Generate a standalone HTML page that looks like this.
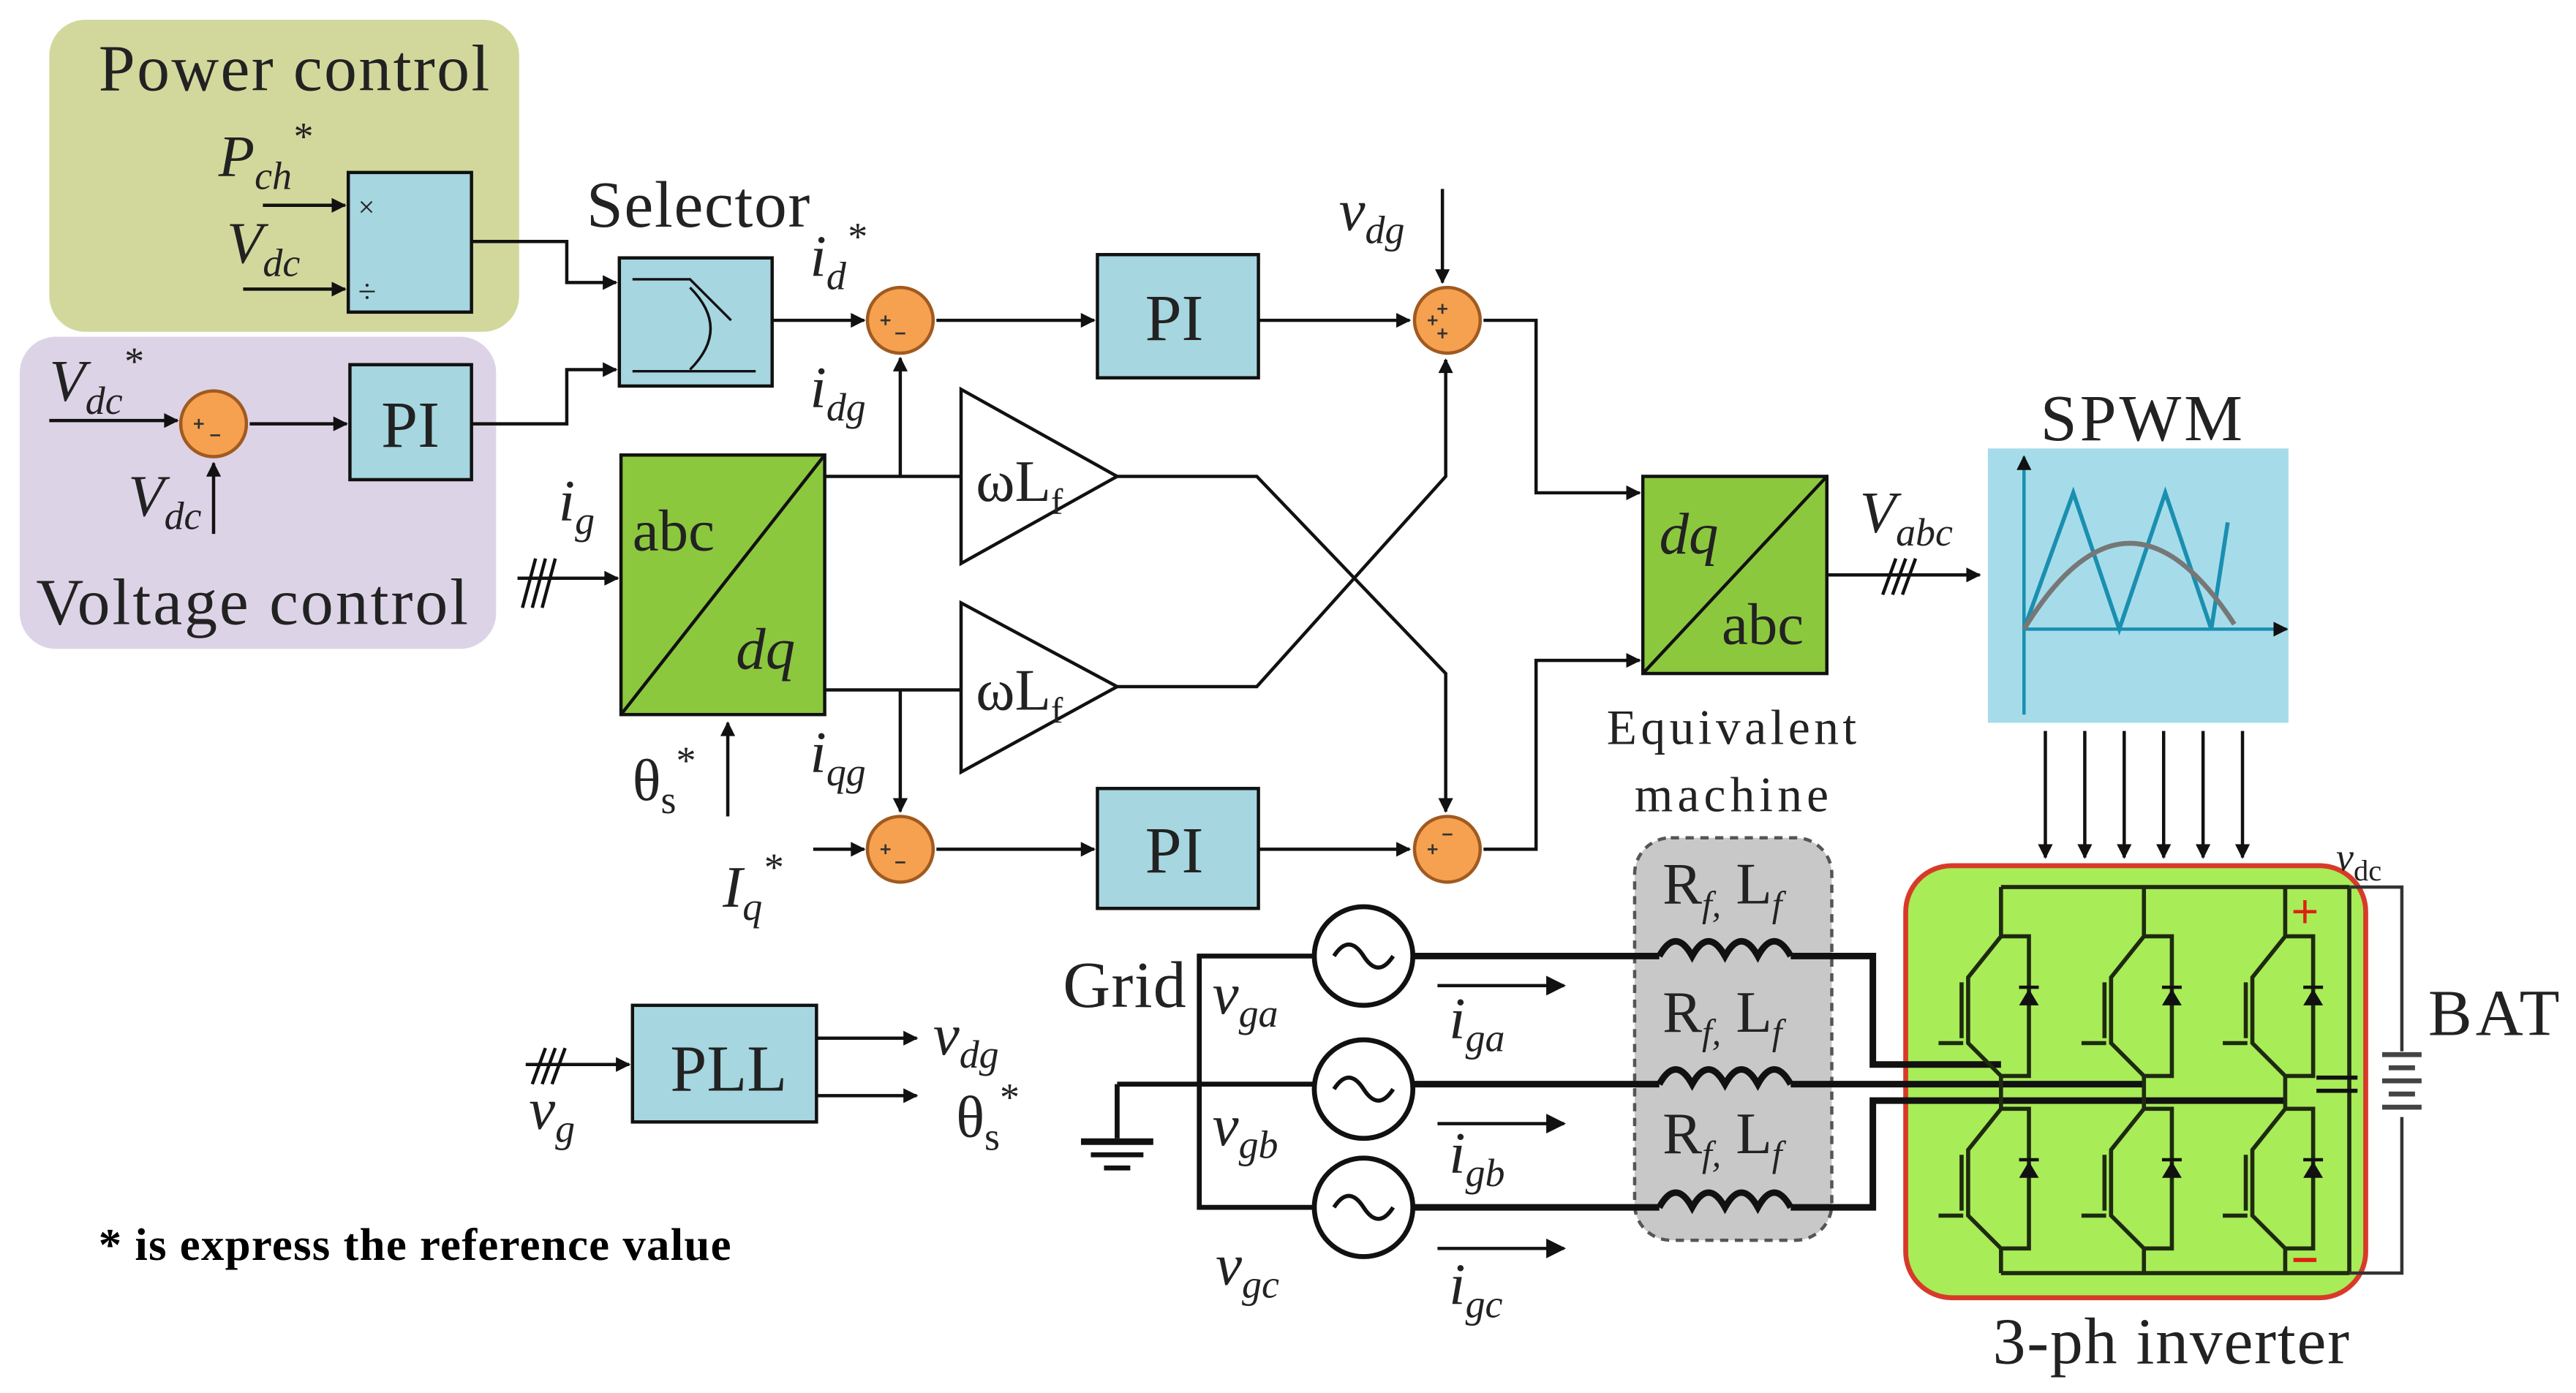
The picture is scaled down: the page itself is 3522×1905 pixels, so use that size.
<!DOCTYPE html>
<html><head><meta charset="utf-8"><style>
html,body{margin:0;padding:0;background:#fff;}
svg{display:block;}
text{font-family:"Liberation Serif",serif;fill:#222;}
.it{font-style:italic;}
</style></head><body>
<svg width="3522" height="1905" viewBox="0 0 1568 848" preserveAspectRatio="none" xmlns="http://www.w3.org/2000/svg">
<defs>
<marker id="a" viewBox="0 0 10 10" refX="9" refY="5" markerWidth="10" markerHeight="9" orient="auto" markerUnits="userSpaceOnUse"><path d="M0,0 L10,5 L0,10z" fill="#111"/></marker>
<marker id="b" viewBox="0 0 10 10" refX="9" refY="5" markerWidth="16" markerHeight="12" orient="auto" markerUnits="userSpaceOnUse"><path d="M0,0 L10,5 L0,10z" fill="#111"/></marker>
</defs>
<g stroke="#111" stroke-width="2" fill="none">
<rect x="30" y="12" width="286" height="190" rx="22" fill="#d2d89c" stroke="none"/>
<rect x="12" y="205" width="290" height="190" rx="22" fill="#ddd3e6" stroke="none"/>
<rect x="212" y="105" width="75" height="85" fill="#a6d6e0"/>
<rect x="377" y="157" width="93" height="78" fill="#a6d6e0"/>
<rect x="213" y="222" width="74" height="70" fill="#a6d6e0"/>
<rect x="668" y="155" width="98" height="75" fill="#a6d6e0"/>
<rect x="668" y="480" width="98" height="73" fill="#a6d6e0"/>
<rect x="385" y="612" width="112" height="71" fill="#a6d6e0"/>
<rect x="378" y="277" width="124" height="158" fill="#8cc83e"/>
<line x1="378" y1="435" x2="502" y2="277"/>
<rect x="1000" y="290" width="112" height="120" fill="#8cc83e"/>
<line x1="1000" y1="410" x2="1112" y2="290"/>
<rect x="1210" y="273" width="183" height="167" fill="#a6dcea" stroke="none"/>
<rect x="995" y="510" width="120" height="245" rx="22" fill="#c8c8c8" stroke="#555" stroke-dasharray="5,4"/>
<rect x="1160" y="527" width="280" height="263" rx="28" fill="#a8ec58" stroke="#d83a2a" stroke-width="3"/>
<path d="M385,170 H420 L445,195 M385,226 H460 M420,175 Q445,200 420,225" stroke-width="1.5"/>
<line x1="160" y1="125" x2="210" y2="125" marker-end="url(#a)"/>
<line x1="148" y1="176" x2="210" y2="176" marker-end="url(#a)"/>
<polyline points="287,147 345,147 345,172 375,172" marker-end="url(#a)"/>
<polyline points="287,258 345,258 345,225 375,225" marker-end="url(#a)"/>
<line x1="30" y1="256" x2="108" y2="256" marker-end="url(#a)"/>
<line x1="152" y1="258" x2="211" y2="258" marker-end="url(#a)"/>
<line x1="130" y1="325" x2="130" y2="282" marker-end="url(#a)"/>
<line x1="470" y1="195" x2="526" y2="195" marker-end="url(#a)"/>
<line x1="570" y1="195" x2="666" y2="195" marker-end="url(#a)"/>
<line x1="766" y1="195" x2="858" y2="195" marker-end="url(#a)"/>
<line x1="878" y1="115" x2="878" y2="172" marker-end="url(#a)"/>
<line x1="315" y1="352" x2="376" y2="352" marker-end="url(#a)"/>
<path d="M318,370 L326,340 M324,370 L332,340 M330,370 L338,340"/>
<line x1="443" y1="497" x2="443" y2="440" marker-end="url(#a)"/>
<line x1="502" y1="290" x2="585" y2="290"/>
<line x1="548" y1="290" x2="548" y2="218" marker-end="url(#a)"/>
<line x1="502" y1="420" x2="585" y2="420"/>
<line x1="548" y1="420" x2="548" y2="494" marker-end="url(#a)"/>
<polygon points="585,237 680,290 585,343" fill="#fff"/>
<polygon points="585,367 680,418 585,470" fill="#fff"/>
<polyline points="680,290 765,290 880,410 880,494" marker-end="url(#a)"/>
<polyline points="680,418 765,418 880,290 880,219" marker-end="url(#a)"/>
<line x1="495" y1="517" x2="526" y2="517" marker-end="url(#a)"/>
<line x1="570" y1="517" x2="666" y2="517" marker-end="url(#a)"/>
<line x1="766" y1="517" x2="858" y2="517" marker-end="url(#a)"/>
<polyline points="903,195 935,195 935,300 998,300" marker-end="url(#a)"/>
<polyline points="903,517 935,517 935,402 998,402" marker-end="url(#a)"/>
<line x1="1112" y1="350" x2="1205" y2="350" marker-end="url(#a)"/>
<path d="M1146,362 L1154,340 M1152,362 L1160,340 M1158,362 L1166,340"/>
<g fill="#f5a14f" stroke="#a05a20">
<circle cx="130" cy="258" r="20"/>
<circle cx="548" cy="195" r="20"/>
<circle cx="881" cy="195" r="20"/>
<circle cx="548" cy="517" r="20"/>
<circle cx="881" cy="517" r="20"/>
</g>
<g stroke="#333" stroke-width="1.2">
<path d="M118,258 h6 M121,255 v6 M128,265 h6"/>
<path d="M536,195 h6 M539,192 v6 M545,203 h6"/>
<path d="M869,195 h6 M872,192 v6 M878,185 v6 M875,188 h6 M878,200 v6 M875,203 h6"/>
<path d="M536,517 h6 M539,514 v6 M545,525 h6"/>
<path d="M869,517 h6 M872,514 v6 M878,508 h6"/>
</g>
<line x1="1232" y1="435" x2="1232" y2="278" stroke="#1a8fb0" marker-end="url(#a)"/>
<line x1="1232" y1="383" x2="1392" y2="383" stroke="#1a8fb0" marker-end="url(#a)"/>
<polyline points="1232,383 1262,300 1290,383 1318,300 1346,383 1356,318" stroke="#1a8fb0" stroke-width="2.5"/>
<path d="M1232,383 Q1295,280 1360,380" stroke="#777" stroke-width="3"/>
<g>
<line x1="1245" y1="445" x2="1245" y2="522" marker-end="url(#a)"/>
<line x1="1269" y1="445" x2="1269" y2="522" marker-end="url(#a)"/>
<line x1="1293" y1="445" x2="1293" y2="522" marker-end="url(#a)"/>
<line x1="1317" y1="445" x2="1317" y2="522" marker-end="url(#a)"/>
<line x1="1341" y1="445" x2="1341" y2="522" marker-end="url(#a)"/>
<line x1="1365" y1="445" x2="1365" y2="522" marker-end="url(#a)"/>
</g>
<line x1="320" y1="648" x2="383" y2="648" marker-end="url(#a)"/>
<path d="M324,660 L332,638 M330,660 L338,638 M336,660 L344,638"/>
<line x1="497" y1="632" x2="558" y2="632" marker-end="url(#a)"/>
<line x1="497" y1="667" x2="558" y2="667" marker-end="url(#a)"/>
<g stroke-width="3">
<polyline points="730,660 730,582 800,582"/>
<polyline points="730,660 730,735 800,735"/>
<line x1="680" y1="660" x2="800" y2="660"/>
<line x1="680" y1="660" x2="680" y2="693"/>
</g>
<line x1="658" y1="695" x2="702" y2="695" stroke-width="4"/>
<line x1="664" y1="703" x2="696" y2="703" stroke-width="3"/>
<line x1="672" y1="711" x2="688" y2="711" stroke-width="3"/>
<circle cx="830" cy="582" r="30" stroke-width="3" fill="#fff"/>
<circle cx="830" cy="663" r="30" stroke-width="3" fill="#fff"/>
<circle cx="830" cy="735" r="30" stroke-width="3" fill="#fff"/>
<path d="M812,582 q9,-14 18,0 t18,0 M812,663 q9,-14 18,0 t18,0 M812,735 q9,-14 18,0 t18,0" stroke-width="2.5"/>
<g stroke-width="4">
<line x1="860" y1="582" x2="1010" y2="582"/>
<line x1="860" y1="660" x2="1010" y2="660"/>
<line x1="860" y1="735" x2="1010" y2="735"/>
<path d="M1010,582 q10,-18 20,0 q10,-18 20,0 q10,-18 20,0 q10,-18 20,0 M1010,660 q10,-18 20,0 q10,-18 20,0 q10,-18 20,0 q10,-18 20,0 M1010,735 q10,-18 20,0 q10,-18 20,0 q10,-18 20,0 q10,-18 20,0"/>
<polyline points="1090,582 1140,582 1140,648 1218,648"/>
<polyline points="1090,660 1305,660"/>
<polyline points="1090,735 1140,735 1140,670 1391,670"/>
</g>
<line x1="875" y1="600" x2="952" y2="600" marker-end="url(#b)"/>
<line x1="875" y1="684" x2="952" y2="684" marker-end="url(#b)"/>
<line x1="875" y1="760" x2="952" y2="760" marker-end="url(#b)"/>
<g stroke="#1e2a10" stroke-width="2.5">
<line x1="1218" y1="540" x2="1430" y2="540"/>
<line x1="1218" y1="775" x2="1430" y2="775"/>
<line x1="1430" y1="540" x2="1430" y2="775"/>
<path d="M1218,540 V570 M1305,540 V570 M1391,540 V570 M1218,760 V775 M1305,760 V775 M1391,760 V775"/>
<path id="sw" d="M1218,570 L1198,595 V635 L1218,655 M1218,570 H1235 V655 H1218 M1180,635 H1195 M1194,598 V632"/>
<use href="#sw" x="87"/><use href="#sw" x="173"/>
<use href="#sw" y="105"/><use href="#sw" x="87" y="105"/><use href="#sw" x="173" y="105"/>
<path d="M1218,655 V675 M1305,655 V675 M1391,655 V675"/>
</g>
<g fill="#111" stroke="none">
<path id="d" d="M1229,612 h12 l-6,-10z M1229,600 h12 v2 h-12z"/>
<use href="#d" x="87"/><use href="#d" x="173"/><use href="#d" y="105"/><use href="#d" x="87" y="105"/><use href="#d" x="173" y="105"/>
</g>
<path d="M1410,656 h25 M1410,664 h25" stroke-width="2.5"/>
<polyline points="1430,540 1462,540 1462,640" stroke="#333"/>
<polyline points="1430,775 1462,775 1462,680" stroke="#333"/>
<path d="M1450,642 h24 M1454,650 h16 M1450,658 h24 M1454,666 h16 M1450,674 h24" stroke="#444" stroke-width="3"/>
<path d="M1403,548 v14 M1396,555 h14" stroke="#e02010" stroke-width="2"/>
<path d="M1396,767 h14" stroke="#e02010" stroke-width="2.5"/>
</g>
<g font-size="40">
<text x="60" y="55" textLength="238">Power control</text>
<text x="22" y="380" textLength="263">Voltage control</text>
<text x="357" y="138" textLength="136">Selector</text>
<text x="697" y="207">PI</text>
<text x="697" y="531">PI</text>
<text x="232" y="272">PI</text>
<text x="408" y="664">PLL</text>
<text x="1242" y="268" textLength="123">SPWM</text>
<text x="647" y="613" textLength="75">Grid</text>
<text x="1478" y="630" textLength="80">BAT</text>
<text x="1213" y="830" textLength="217">3-ph inverter</text>
</g>
<g font-size="30">
<text x="978" y="453" textLength="152">Equivalent</text>
<text x="995" y="494" textLength="118">machine</text>
</g>
<text x="218" y="132" font-size="18">×</text>
<text x="218" y="184" font-size="20">÷</text>
<g class="it" font-size="36">
<text x="133" y="107">P<tspan font-size="24" dy="8">ch</tspan><tspan font-size="24" dy="-24">*</tspan></text>
<text x="138" y="160">V<tspan font-size="24" dy="8">dc</tspan></text>
<text x="30" y="244">V<tspan font-size="24" dy="8">dc</tspan><tspan font-size="24" dy="-24">*</tspan></text>
<text x="78" y="314">V<tspan font-size="24" dy="8">dc</tspan></text>
<text x="493" y="168">i<tspan font-size="24" dy="8">d</tspan><tspan font-size="24" dy="-24">*</tspan></text>
<text x="493" y="248">i<tspan font-size="24" dy="8">dg</tspan></text>
<text x="493" y="470">i<tspan font-size="24" dy="8">qg</tspan></text>
<text x="440" y="552">I<tspan font-size="24" dy="8">q</tspan><tspan font-size="24" dy="-24">*</tspan></text>
<text x="815" y="140">v<tspan font-size="24" dy="8">dg</tspan></text>
<text x="340" y="317">i<tspan font-size="24" dy="8">g</tspan></text>
<text x="1132" y="324">V<tspan font-size="24" dy="8">abc</tspan></text>
<text x="568" y="642">v<tspan font-size="24" dy="8">dg</tspan></text>
<text x="322" y="687">v<tspan font-size="24" dy="8">g</tspan></text>
<text x="738" y="617">v<tspan font-size="24" dy="8">ga</tspan></text>
<text x="738" y="697">v<tspan font-size="24" dy="8">gb</tspan></text>
<text x="740" y="782">v<tspan font-size="24" dy="8">gc</tspan></text>
<text x="882" y="632">i<tspan font-size="24" dy="8">ga</tspan></text>
<text x="882" y="714">i<tspan font-size="24" dy="8">gb</tspan></text>
<text x="882" y="794">i<tspan font-size="24" dy="8">gc</tspan></text>
<text x="385" y="335" font-style="normal">abc</text>
<text x="448" y="407">dq</text>
<text x="1010" y="337">dq</text>
<text x="1048" y="392" font-style="normal">abc</text>
<text x="1422" y="530" font-size="24">v<tspan font-size="18" dy="6" font-style="normal">dc</tspan></text>
</g>
<g font-size="36">
<text x="594" y="305">ωL<tspan font-size="22" dy="8">f</tspan></text>
<text x="594" y="432">ωL<tspan font-size="22" dy="8">f</tspan></text>
<text x="385" y="487">θ<tspan font-size="24" dy="8">s</tspan><tspan font-size="24" dy="-24">*</tspan></text>
<text x="582" y="692">θ<tspan font-size="24" dy="8">s</tspan><tspan font-size="24" dy="-24">*</tspan></text>
<text x="1012" y="550">R<tspan font-size="22" dy="8" class="it">f,</tspan><tspan dy="-8"> L</tspan><tspan font-size="22" dy="8" class="it">f</tspan></text>
<text x="1012" y="628">R<tspan font-size="22" dy="8" class="it">f,</tspan><tspan dy="-8"> L</tspan><tspan font-size="22" dy="8" class="it">f</tspan></text>
<text x="1012" y="702">R<tspan font-size="22" dy="8" class="it">f,</tspan><tspan dy="-8"> L</tspan><tspan font-size="22" dy="8" class="it">f</tspan></text>
</g>
<text x="60" y="767" font-size="28" font-weight="bold" textLength="385" style="fill:#000">* is express the reference value</text>
</svg>
</body></html>
